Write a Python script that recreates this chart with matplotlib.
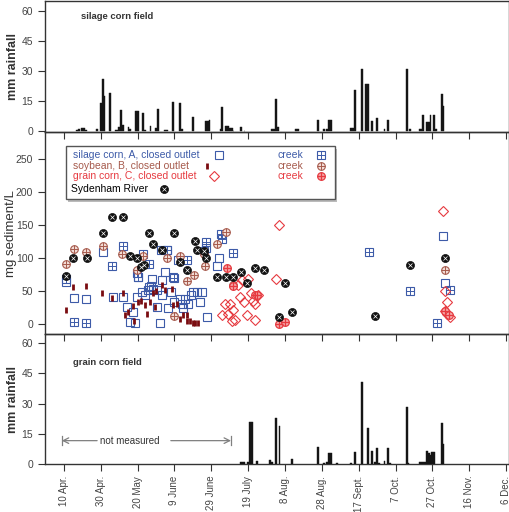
import matplotlib
matplotlib.use('Agg')
import matplotlib.pyplot as plt
from matplotlib.patches import Rectangle

plt.rcParams['font.family'] = ['Liberation Sans', 'DejaVu Sans']

# day of year (10 Apr. = 100)
tick_days = list(range(100, 341, 20))
tick_labels = ['10 Apr.', '30 Apr.', '20 May', '9 June', '29 June', '19 July', '8 Aug.',
               '28 Aug.', '17 Sept.', '7 Oct.', '27 Oct.', '16 Nov.', '6 Dec.']

# daily rainfall, silage corn field (mm)
silage_rain_day = [107, 108, 110, 111, 112, 118, 120, 121, 122, 125,
                   128, 129, 130, 131, 132, 135, 136, 139, 140, 143,
                   144, 147, 150, 151, 155, 156, 159, 163, 164, 170,
                   177, 178, 179, 185, 186, 188, 189, 190, 191, 192,
                   196, 198, 213, 214, 215, 216, 226, 227, 238, 241,
                   243, 244, 245, 256, 257, 258, 262, 264, 265, 267,
                   270, 274, 276, 286, 288, 293, 294, 295, 297, 298,
                   299, 301, 302, 305, 306]
silage_rain_mm = [0.8, 1.3, 1.6, 1.6, 0.5, 1.0, 14, 26, 17.5, 19,
                  0.5, 0.5, 2, 10.5, 3, 2, 1.3, 10, 10, 9,
                  0.5, 2.5, 1.6, 11, 0.5, 0.5, 14.5, 14, 1, 7,
                  5, 5, 5.7, 1, 12, 2.5, 2.5, 1.6, 1.6, 0.3,
                  2.2, 0.3, 1.3, 1.3, 16, 2, 1.3, 1.3, 5.5, 1.3,
                  1, 5.8, 5.8, 1.6, 1.6, 20.5, 31, 23.5, 23.5, 5,
                  6.5, 1.3, 5.8, 31, 1, 1, 1, 7.8, 4.6, 4.6,
                  8, 7.8, 1, 18.7, 12.3]

# daily rainfall, grain corn field (mm)
grain_rain_day = [196, 197, 198, 200, 201, 202, 205, 212, 213, 215,
                  217, 224, 238, 241, 243, 244, 245, 248, 256, 258,
                  262, 265, 267, 269, 270, 271, 274, 276, 277,
                  286, 287, 293, 294, 295, 296, 297, 298, 299, 300,
                  301, 305, 306]
grain_rain_mm = [0.8, 0.8, 0.8, 1, 21, 21, 1.3, 2, 1, 23,
                 19, 2.6, 8.6, 0.5, 1, 5.5, 5.5, 0.5, 0.5, 6,
                 40.5, 18, 6.7, 1, 7.8, 0.5, 1.6, 8, 0.5,
                 28.5, 0.5, 1, 1, 1, 1, 6.7, 5.5, 4.6, 6,
                 6, 20.5, 10]

# sediment concentrations (mg/L)
a_out_day = [101, 105.4, 112, 121, 126.8, 131.9, 134, 135.8, 137.6, 138.5,
             139.8, 140.4, 142.2, 144, 145.8, 146.1, 147.2, 148, 148.5, 150.3,
             150.7, 152.1, 153, 153.4, 154.8, 155.8, 156.6, 157.9, 159.3, 159.7,
             162, 163, 163.9, 164.8, 165.7, 167.5, 168.8, 170.2, 172, 173.8,
             174.7, 176, 176.9, 177.8, 182.9, 184.1, 305.6, 306.8]
a_out_sed = [64, 40, 39, 110, 42, 42, 26, 3.5, 19, 2,
             42, 72, 49, 45, 52, 57, 58, 69, 54, 52,
             26, 2, 44, 67, 79, 112, 24, 49, 71, 33,
             97, 39, 30, 24, 39, 31, 44, 49, 49, 34,
             49, 111, 115, 11, 89, 100, 134, 62]
a_creek_day = [101, 105.4, 112, 125.9, 131.9, 139.8, 140.4, 143, 146.1, 152.5,
               155.8, 159.8, 167, 176.9, 185.2, 186, 191.9, 265.7, 287.8, 302.7, 309.5]
a_creek_sed = [68, 3.5, 2, 89, 119, 78, 72, 107, 92, 112,
               112, 70, 98, 124, 137, 129, 108, 110, 51, 2, 52]
b_out_day = [100.9, 104.7, 112, 120.8, 125.9, 132.2, 133.1, 134.9, 137.6, 138.1,
             140, 141.7, 144, 144.9, 146.7, 148.5, 149.4, 150, 153, 154.8,
             158.5, 159.4, 161.2, 160.3, 163, 164.8, 166.6, 166.6, 168.4, 169.9,
             171.1, 172.9]
b_out_sed = [22, 57, 58, 48, 40, 48, 14, 19, 28, 4.5,
             33, 35, 29, 15, 34, 47, 26, 50, 59, 52,
             54, 29, 31, 14, 8, 14, 5, 14, 4.5, 2.5,
             2.5, 2.5]
b_creek_day = [100.9, 105.4, 112, 121, 131.3, 139.8, 143, 155.8, 163, 159.7,
               166.9, 170.7, 176.5, 176, 183.2, 187.8, 191.6, 306.8]
b_creek_sed = [91, 114, 110, 119, 106, 83, 103, 100, 103, 12,
               65, 74, 88, 107, 121, 140, 59, 83]
c_out_day = [185.6, 187.4, 188.9, 190.1, 191, 191.9, 192.8, 194.6, 195.5, 196.5,
             197.7, 199.2, 200, 201.4, 202.8, 203.7, 203.7, 205.5, 215.1, 216.9,
             305.6, 306.8, 307.8, 306.8, 308, 309.5]
c_out_sed = [14, 30, 16, 31, 4.5, 21, 6, 60, 41, 67,
             34, 14, 69, 47, 36, 31, 6, 44, 68, 150,
             171, 50, 34, 20, 16, 11]
c_creek_day = [188.3, 191.9, 203.7, 205, 216.9, 220, 306.8, 309.2]
c_creek_sed = [86, 58, 45, 45, 1, 3.5, 20, 14]
river_day = [101.1, 105, 112.3, 121, 125.9, 131.9, 135.8, 139.8, 141.7, 143.6,
             146.1, 148.1, 153.4, 159.9, 163, 166.9, 171.1, 172, 176, 177.1,
             182.9, 187.9, 191.9, 195.9, 199.2, 203.7, 208.7, 216.9, 220, 223.8,
             268.8, 287.8, 306.8]
river_sed = [73, 101, 100, 138, 162, 162, 104, 101, 87, 90,
             138, 122, 112, 139, 94, 82, 126, 112, 111, 100,
             72, 72, 72, 79, 63, 86, 83, 11, 63, 18,
             13, 90, 100]

blue = '#3d5ba8'
brown = '#a65a4c'
maroon = '#7a0c10'
red = '#e63a40'
frame = '#333333'


def marks(ax, x, y, kind, **kw):
    p = dict(ls='none', **kw)
    if kind == 'A':
        ax.plot(x, y, marker='s', ms=5.8, mfc='none', mec=blue, mew=0.8, **p)
    elif kind == 'A creek':
        ax.plot(x, y, marker='s', ms=5.8, mfc='none', mec=blue, mew=0.8, **p)
        ax.plot(x, y, marker='+', ms=5.8, mec=blue, mew=0.7, **p)
    elif kind == 'B':
        ax.plot(x, y, marker='|', ms=4.5, mec=maroon, mew=2, **p)
    elif kind == 'B creek':
        ax.plot(x, y, marker='o', ms=5.5, mfc='#f2dcd6', mec=brown, mew=0.8, **p)
        ax.plot(x, y, marker='+', ms=5.5, mec=brown, mew=0.7, **p)
    elif kind == 'C':
        ax.plot(x, y, marker='D', ms=5.2, mfc='none', mec=red, mew=0.8, **p)
    elif kind == 'C creek':
        ax.plot(x, y, marker='o', ms=5.5, mfc='#f6aaaa', mec=red, mew=0.9, **p)
        ax.plot(x, y, marker='+', ms=5.5, mec=red, mew=0.9, **p)
    elif kind == 'river':
        ax.plot(x, y, marker='o', ms=5.8, mfc='#111111', mec='#111111', mew=0.5, **p)
        ax.plot(x, y, marker='x', ms=2.6, mec='white', mew=0.5, **p)


fig = plt.figure(figsize=(5.1, 5.12), dpi=100)
gs = fig.add_gridspec(3, 1, height_ratios=[132, 202, 130], hspace=0,
                      left=45 / 510, right=509 / 510, top=0.999, bottom=1 - 464 / 512)
ax1 = fig.add_subplot(gs[0])
ax2 = fig.add_subplot(gs[1], sharex=ax1)
ax3 = fig.add_subplot(gs[2], sharex=ax1)

for ax in (ax1, ax2, ax3):
    ax.patch.set_alpha(0)
    for s in ax.spines.values():
        s.set_color(frame)
        s.set_linewidth(1)
    ax.tick_params(direction='out', length=5, width=0.8, color=frame,
                   labelsize=7.5, labelcolor='#444444')
    ax.set_xticks(tick_days)

ax1.set_xlim(89.7, 341.6)
ax1.tick_params(axis='x', labelbottom=False)
ax2.tick_params(axis='x', labelbottom=False)

# rainfall panels
ax1.bar(silage_rain_day, silage_rain_mm, width=1.0, color='#151515', lw=0.3,
        edgecolor='#151515', zorder=3)
ax1.set_ylim(-0.6, 65)
ax1.set_yticks([0, 15, 30, 45, 60])
ax1.set_ylabel('mm rainfall', fontsize=9, fontweight='bold', color='#333333')
ax1.yaxis.set_label_coords(-0.055, 0.5)
ax1.text(109, 57, 'silage corn field', fontsize=6.8, fontweight='bold', color='#333333', va='center')

ax3.bar(grain_rain_day, grain_rain_mm, width=1.0, color='#151515', lw=0.3,
        edgecolor='#151515', zorder=3)
ax3.set_ylim(0, 64.5)
ax3.set_yticks([0, 15, 30, 45, 60])
ax3.set_ylabel('mm rainfall', fontsize=9, fontweight='bold', color='#333333')
ax3.yaxis.set_label_coords(-0.055, 0.5)
ax3.text(105, 50.5, 'grain corn field', fontsize=6.8, fontweight='bold', color='#333333', va='center')
ax3.set_xticklabels(tick_labels, rotation=90, fontsize=7)

# "not measured" span
nm_left, nm_right, nm_y = 98.8, 190.7, 11.6
gray = '#808080'
ax3.annotate('', xy=(nm_left, nm_y), xytext=(118, nm_y),
             arrowprops=dict(arrowstyle='->', color=gray, lw=0.9, shrinkA=0, shrinkB=0))
ax3.annotate('', xy=(nm_right, nm_y), xytext=(158, nm_y),
             arrowprops=dict(arrowstyle='->', color=gray, lw=0.9, shrinkA=0, shrinkB=0))
ax3.plot([nm_left, nm_left], [9.2, 14], color=gray, lw=0.9)
ax3.plot([nm_right, nm_right], [9.2, 14], color=gray, lw=0.9)
ax3.text((nm_left + nm_right) / 2 - 9, nm_y, 'not measured', fontsize=7, color='#333333',
         ha='center', va='center')

# sediment panel
marks(ax2, a_out_day, a_out_sed, 'A')
marks(ax2, a_creek_day, a_creek_sed, 'A creek')
marks(ax2, b_out_day, b_out_sed, 'B')
marks(ax2, b_creek_day, b_creek_sed, 'B creek')
marks(ax2, c_out_day, c_out_sed, 'C')
marks(ax2, c_creek_day, c_creek_sed, 'C creek')
marks(ax2, river_day, river_sed, 'river')
ax2.set_ylim(-15, 291)
ax2.set_yticks([0, 50, 100, 150, 200, 250])
ax2.set_ylabel('mg sediment/L', fontsize=9.5, color='#333333')
ax2.yaxis.set_label_coords(-0.06, 0.5)


# legend drawn by hand (pixel layout of the original)
def axf(px, py):
    return ((px - 45) / 464, (334 - py) / 202)


x0, y0 = axf(66, 199)
x1, y1 = axf(335, 146)
ax2.add_patch(Rectangle((x0 + 0.005, y0 - 0.012), x1 - x0, y1 - y0, transform=ax2.transAxes,
                        facecolor='#bbbbbb', edgecolor='none', zorder=5))
ax2.add_patch(Rectangle((x0, y0), x1 - x0, y1 - y0, transform=ax2.transAxes,
                        facecolor='white', edgecolor='#555555', lw=1, zorder=6))

rows = [('silage corn, A, closed outlet', blue, 'A', 218.7, 155, 'A creek'),
        ('soybean, B, closed outlet', brown, 'B', 207, 165.5, 'B creek'),
        ('grain corn, C, closed outlet', red, 'C', 214, 176, 'C creek'),
        ('Sydenham River', 'black', 'river', 164.3, 188.5, None)]
for label, col, kind, mx, my, ckind in rows:
    tx = 71 if kind == 'river' else 73
    ax2.text(*axf(tx, my), label, transform=ax2.transAxes, fontsize=7.5, color=col,
             va='center', zorder=7)
    marks(ax2, [axf(mx, my)[0]], [axf(mx, my)[1]], kind, transform=ax2.transAxes,
          zorder=7, clip_on=False)
    if ckind:
        ax2.text(*axf(278, my), 'creek', transform=ax2.transAxes, fontsize=7.5, color=col,
                 va='center', zorder=7)
        marks(ax2, [axf(321, my)[0]], [axf(321, my)[1]], ckind, transform=ax2.transAxes,
              zorder=7, clip_on=False)

fig.savefig('out.png', dpi=100)
